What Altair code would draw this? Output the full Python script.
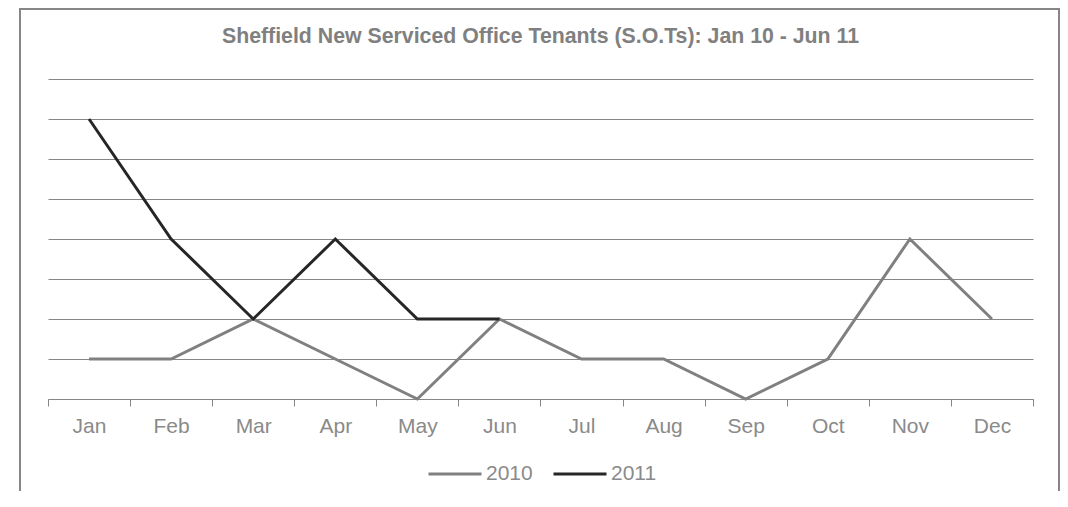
import altair as alt
import pandas as pd

months = ["Jan", "Feb", "Mar", "Apr", "May", "Jun",
          "Jul", "Aug", "Sep", "Oct", "Nov", "Dec"]
years = ["2010", "2011"]
sots_2010 = [1, 1, 2, 1, 0, 2, 1, 1, 0, 1, 4, 2]
sots_2011 = [7, 4, 2, 4, 2, 2]
y_ticks = [0, 1, 2, 3, 4, 5, 6, 7, 8]
title_text = "Sheffield New Serviced Office Tenants (S.O.Ts): Jan 10 - Jun 11"

records = (
    [{"Month": m, "Year": years[0], "SOTs": v} for m, v in zip(months, sots_2010)]
    + [{"Month": m, "Year": years[1], "SOTs": v} for m, v in zip(months, sots_2011)]
)
df = pd.DataFrame(records)

W, H = 985, 320
FONT = "Liberation Sans"
GREY = "#868686"
LABEL = "#8a8a8a"

one = alt.Data(values=[{}])
frame_left = alt.Chart(one).mark_rule(stroke=GREY, strokeWidth=2).encode(
    x=alt.value(-28), y=alt.value(-70), y2=alt.value(412)
)
frame_top = alt.Chart(one).mark_rule(stroke=GREY, strokeWidth=2).encode(
    x=alt.value(-29), x2=alt.value(1012), y=alt.value(-70)
)
frame_right = alt.Chart(one).mark_rule(stroke=GREY, strokeWidth=2).encode(
    x=alt.value(1011), y=alt.value(-70), y2=alt.value(412)
)

title = alt.Chart(alt.Data(values=[{"t": title_text}])).mark_text(
    font=FONT, fontSize=21.3, fontWeight="bold", color="#808080",
    align="center", baseline="alphabetic"
).encode(
    text="t:N", x=alt.value(W / 2), y=alt.value(-36)
)

lines = alt.Chart(df).mark_line(strokeWidth=3).encode(
    x=alt.X(
        "Month:N", sort=months, bandPosition=0.5,
        scale=alt.Scale(type="band", paddingInner=0, paddingOuter=0),
        axis=alt.Axis(
            title=None, labelAngle=0, tickBand="extent", grid=False,
            labelFont=FONT, labelFontSize=21, labelColor=LABEL, labelPadding=9,
            tickSize=7, tickColor=GREY, domainColor=GREY, tickWidth=1, domainWidth=1,
        ),
    ),
    y=alt.Y(
        "SOTs:Q",
        scale=alt.Scale(domain=[0, 8], nice=False),
        axis=alt.Axis(
            title=None, values=y_ticks, labels=False, ticks=False, domain=False,
            grid=True, gridColor=GREY, gridWidth=1,
        ),
    ),
    color=alt.Color(
        "Year:N",
        scale=alt.Scale(domain=years, range=["#808080", "#262626"]),
        legend=alt.Legend(
            title=None, orient="none", legendX=379, legendY=367,
            direction="horizontal", symbolType="stroke", symbolSize=2809,
            symbolStrokeWidth=3, labelFont=FONT, labelFontSize=21,
            labelColor=LABEL, labelOffset=3, columnPadding=14, padding=0,
        ),
    ),
)

chart = alt.layer(frame_left, frame_top, frame_right, title, lines).properties(
    width=W, height=H,
    padding={"left": 40, "top": 71, "right": 27, "bottom": 99},
    autosize=alt.AutoSizeParams(type="none"),
    background="white",
).configure_view(stroke="transparent")

chart.save("out.html", embed_options={"renderer": "svg", "actions": False})
